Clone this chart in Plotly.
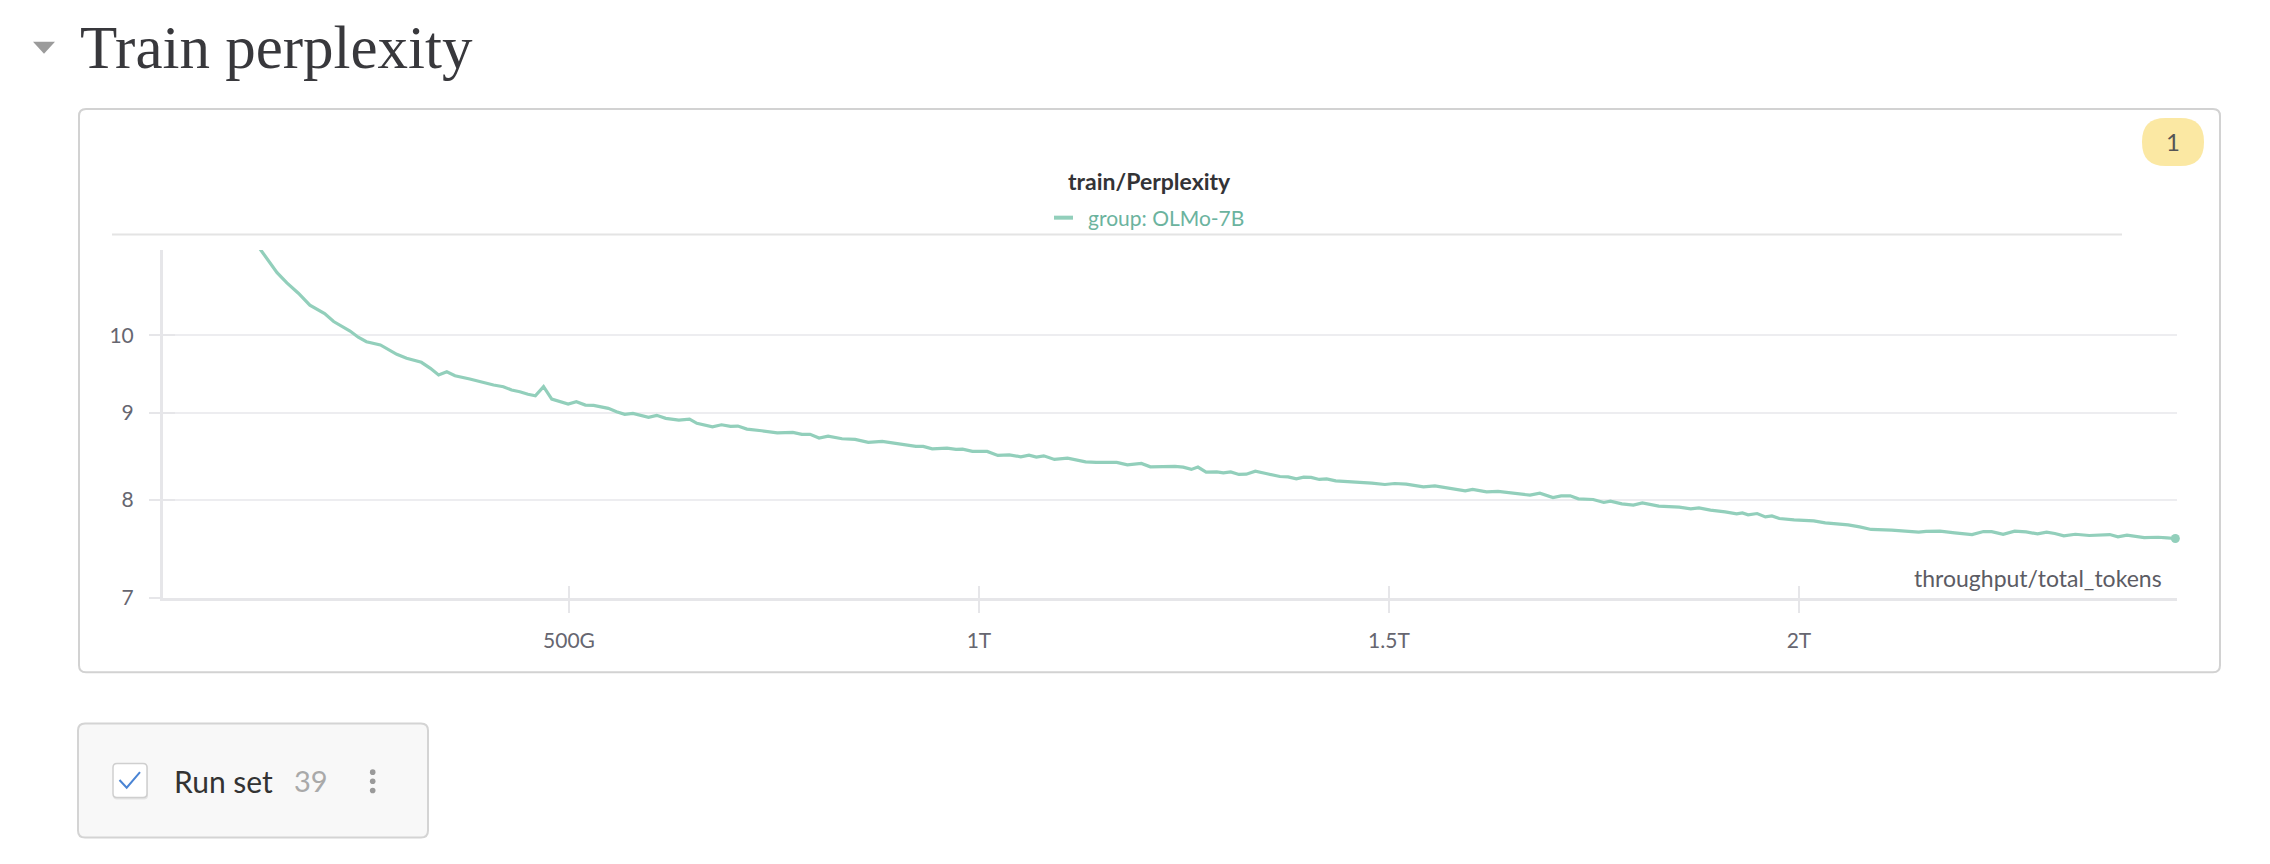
import math
import plotly.graph_objects as go

# ---------------- data ----------------
tokens_G = [111, 124, 144, 156, 170, 184, 194, 202, 213, 223, 233, 243, 253, 270, 290, 302, 320, 331, 341, 351,
            361, 379, 392, 408, 420, 430, 440, 450, 459, 469, 479, 489, 499, 509, 520, 530, 540, 548, 558, 568,
            578, 597, 607, 618, 634, 647, 656, 675, 686, 697, 706, 717, 735, 754, 773, 784, 794, 805, 816, 833,
            849, 865, 882, 896, 909, 923, 932, 943, 961, 972, 980, 992, 1010, 1023, 1037, 1051, 1061, 1070, 1079, 1092,
            1108, 1130, 1143, 1168, 1181, 1198, 1209, 1239, 1249, 1259, 1267, 1277, 1290, 1298, 1307, 1317, 1326, 1337, 1350, 1367,
            1377, 1387, 1396, 1405, 1415, 1424, 1435, 1447, 1465, 1479, 1495, 1507, 1521, 1542, 1556, 1574, 1593, 1602, 1619, 1633,
            1654, 1672, 1684, 1700, 1710, 1721, 1731, 1749, 1762, 1770, 1784, 1798, 1809, 1829, 1854, 1868, 1878, 1892, 1910, 1924,
            1931, 1938, 1949, 1959, 1967, 1976, 1994, 2018, 2032, 2060, 2074, 2088, 2113, 2134, 2146, 2155, 2172, 2190, 2211, 2225,
            2235, 2249, 2263, 2277, 2291, 2302, 2312, 2323, 2337, 2354, 2379, 2389, 2400, 2421, 2438, 2449, 2459]

perplexity = [11.46, 11.23, 10.89, 10.74, 10.59, 10.42, 10.36, 10.30, 10.19, 10.12, 10.06, 9.975, 9.915, 9.871, 9.747, 9.694, 9.641, 9.563, 9.476, 9.519,
              9.467, 9.425, 9.390, 9.348, 9.327, 9.285, 9.263, 9.231, 9.213, 9.327, 9.172, 9.138, 9.110, 9.138, 9.097, 9.094, 9.069, 9.057, 9.015, 8.983,
              8.995, 8.946, 8.971, 8.934, 8.914, 8.926, 8.874, 8.833, 8.857, 8.838, 8.841, 8.805, 8.785, 8.761, 8.766, 8.742, 8.742, 8.698, 8.722, 8.690,
              8.683, 8.647, 8.659, 8.639, 8.627, 8.601, 8.601, 8.572, 8.580, 8.565, 8.569, 8.542, 8.542, 8.496, 8.503, 8.480, 8.499, 8.476, 8.491, 8.450,
              8.465, 8.422, 8.415, 8.415, 8.388, 8.404, 8.365, 8.370, 8.362, 8.336, 8.362, 8.305, 8.308, 8.297, 8.308, 8.279, 8.282, 8.316, 8.290, 8.256,
              8.252, 8.230, 8.249, 8.246, 8.223, 8.230, 8.207, 8.201, 8.185, 8.182, 8.167, 8.178, 8.170, 8.141, 8.152, 8.126, 8.096, 8.112, 8.085, 8.090,
              8.071, 8.049, 8.071, 8.024, 8.042, 8.042, 8.009, 8.002, 7.970, 7.984, 7.955, 7.941, 7.966, 7.930, 7.919, 7.901, 7.912, 7.887, 7.869, 7.847,
              7.858, 7.837, 7.851, 7.815, 7.826, 7.798, 7.783, 7.773, 7.752, 7.731, 7.710, 7.683, 7.675, 7.665, 7.655, 7.662, 7.665, 7.647, 7.630, 7.661,
              7.661, 7.633, 7.665, 7.657, 7.637, 7.655, 7.641, 7.616, 7.633, 7.620, 7.630, 7.606, 7.623, 7.599, 7.602, 7.595, 7.589]

x_tick_vals = [5e11, 1e12, 1.5e12, 2e12]
x_tick_text = ["500G", "1T", "1.5T", "2T"]
y_tick_vals = [7, 8, 9, 10]
y_tick_text = ["7", "8", "9", "10"]
x_range_G = [4.9, 2461]
y_range = [7, 11.23]

series_name = "group: OLMo-7B"
chart_title = "train/Perplexity"
x_title = "throughput/total_tokens"
section_title = "Train perplexity"
runset_label = "Run set"
runset_count = "39"
badge_text = "1"

# ---------------- styling ----------------
LINE_COLOR = "#92cfbb"
LEGEND_TEXT = "#6bb39e"
AXIS_COLOR = "#e6e6e9"
GRID_COLOR = "#ededf0"
TICK_TEXT = "#666670"
UI_FONT = "Lato"

FIG_W, FIG_H = 2270, 864
L, R, T, B = 163, 2177, 250, 597.7
W, H = R - L, B - T


def px(x):
    return (x - L) / W


def py(y):
    return (B - y) / H


def rrect(x0, y0, x1, y1, r):
    pts = [
        f"M {px(x0 + r)} {py(y0)}", f"L {px(x1 - r)} {py(y0)}",
        f"Q {px(x1)} {py(y0)} {px(x1)} {py(y0 + r)}", f"L {px(x1)} {py(y1 - r)}",
        f"Q {px(x1)} {py(y1)} {px(x1 - r)} {py(y1)}", f"L {px(x0 + r)} {py(y1)}",
        f"Q {px(x0)} {py(y1)} {px(x0)} {py(y1 - r)}", f"L {px(x0)} {py(y0 + r)}",
        f"Q {px(x0)} {py(y0)} {px(x0 + r)} {py(y0)}", "Z",
    ]
    return " ".join(pts)


n = min(len(tokens_G), len(perplexity))
xs = [t * 1e9 for t in tokens_G[:n]]
ys = perplexity[:n]

fig = go.Figure()
fig.add_trace(go.Scatter(
    x=xs, y=ys, mode="lines", name=series_name,
    line=dict(color=LINE_COLOR, width=3.2), showlegend=False, hoverinfo="skip",
))
# end-point dot
fig.add_trace(go.Scatter(
    x=[xs[-1]], y=[ys[-1]], mode="markers", cliponaxis=False,
    marker=dict(color=LINE_COLOR, size=9), showlegend=False, hoverinfo="skip",
))
# invisible trace on the overlay axes (for the inner halves of the tick marks)
fig.add_trace(go.Scatter(
    x=[xs[-1]], y=[ys[-1]], xaxis="x2", yaxis="y2", mode="markers",
    marker=dict(size=1, opacity=0), showlegend=False, hoverinfo="skip",
))

xr = [v * 1e9 for v in x_range_G]
yr = [math.log10(v) for v in y_range]

fig.update_layout(
    width=FIG_W, height=FIG_H, autosize=False,
    margin=dict(l=L, r=FIG_W - R, t=T, b=FIG_H - B, pad=0),
    paper_bgcolor="white", plot_bgcolor="white",
    font=dict(family=UI_FONT, color=TICK_TEXT),
    xaxis=dict(
        range=xr, showgrid=False, zeroline=False,
        showline=True, linecolor=AXIS_COLOR, linewidth=3,
        tickmode="array", tickvals=x_tick_vals, ticktext=x_tick_text,
        ticks="outside", ticklen=12, tickwidth=2, tickcolor=AXIS_COLOR,
        tickfont=dict(family=UI_FONT, size=21, color=TICK_TEXT),
        ticklabelstandoff=10,
    ),
    yaxis=dict(
        type="log", range=yr, showgrid=True, gridcolor=GRID_COLOR, gridwidth=1.5,
        zeroline=False, showline=True, linecolor=AXIS_COLOR, linewidth=3,
        tickmode="array", tickvals=y_tick_vals, ticktext=y_tick_text,
        ticks="outside", ticklen=11, tickwidth=2, tickcolor=AXIS_COLOR,
        tickfont=dict(family=UI_FONT, size=21, color=TICK_TEXT),
        ticklabelstandoff=11,
    ),
    xaxis2=dict(
        overlaying="x", anchor="y", range=xr, showgrid=False, zeroline=False, showline=False,
        tickmode="array", tickvals=x_tick_vals, showticklabels=False,
        ticks="inside", ticklen=12, tickwidth=2, tickcolor=AXIS_COLOR,
    ),
    yaxis2=dict(
        overlaying="y", anchor="x", type="log", range=yr, showgrid=False, zeroline=False, showline=False,
        tickmode="array", tickvals=y_tick_vals, showticklabels=False,
        ticks="inside", ticklen=12, tickwidth=2, tickcolor=AXIS_COLOR,
    ),
)

shapes = [
    # panel frame
    dict(type="path", xref="paper", yref="paper", path=rrect(79, 109, 2220, 672, 7),
         line=dict(color="#d2d2d2", width=2), fillcolor="rgba(0,0,0,0)", layer="below"),
    # separator under legend
    dict(type="line", xref="paper", yref="paper", x0=px(112), x1=px(2122), y0=py(234.5), y1=py(234.5),
         line=dict(color="#e4e4e4", width=2)),
    # legend swatch
    dict(type="line", xref="paper", yref="paper", x0=px(1054), x1=px(1073), y0=py(217.7), y1=py(217.7),
         line=dict(color=LINE_COLOR, width=4)),
    # badge pill
    dict(type="path", xref="paper", yref="paper", path=rrect(2142, 118, 2204, 166, 23.5),
         line=dict(width=0), fillcolor="#fbe8a3"),
    # collapse triangle
    dict(type="path", xref="paper", yref="paper",
         path=f"M {px(33)} {py(42)} L {px(55)} {py(42)} L {px(44)} {py(54)} Z",
         line=dict(width=0), fillcolor="#9b9b9b"),
    # run set box
    dict(type="path", xref="paper", yref="paper", path=rrect(78, 723, 428, 837, 7),
         line=dict(color="#d4d4d4", width=2), fillcolor="#f8f8f8", layer="below"),
    # checkbox shadow + box
    dict(type="path", xref="paper", yref="paper", path=rrect(113, 764, 148, 799, 4),
         line=dict(width=0), fillcolor="#e4e4e4"),
    dict(type="path", xref="paper", yref="paper", path=rrect(113, 763, 147, 797, 4),
         line=dict(color="#cfcfcf", width=1.5), fillcolor="white"),
    # check mark
    dict(type="path", xref="paper", yref="paper",
         path=f"M {px(119.5)} {py(779.5)} L {px(126.7)} {py(787.3)} L {px(140)} {py(771.7)}",
         line=dict(color="#4a84d4", width=2), fillcolor="rgba(0,0,0,0)"),
]
for cy in (771.7, 780.8, 790):
    shapes.append(dict(type="circle", xref="paper", yref="paper",
                       x0=px(372.7 - 2.8), x1=px(372.7 + 2.8), y0=py(cy - 2.8), y1=py(cy + 2.8),
                       line=dict(width=0), fillcolor="#9a9a9a"))
fig.update_layout(shapes=shapes)

annotations = [
    dict(text=section_title, x=px(78), y=py(48), xanchor="left", yanchor="middle",
         font=dict(family="Liberation Serif", size=61, color="#38383c")),
    dict(text=f"<b>{chart_title}</b>", x=px(1149.5), y=py(181.5), xanchor="center", yanchor="middle",
         font=dict(family=UI_FONT, size=23, color="#333336")),
    dict(text=series_name, x=px(1086), y=py(218), xanchor="left", yanchor="middle",
         font=dict(family=UI_FONT, size=21, color=LEGEND_TEXT)),
    dict(text=x_title, x=px(2164), y=py(578), xanchor="right", yanchor="middle",
         font=dict(family=UI_FONT, size=23, color="#5c5c64")),
    dict(text=badge_text, x=px(2173), y=py(142), xanchor="center", yanchor="middle",
         font=dict(family=UI_FONT, size=24, color="#555555")),
    dict(text=runset_label, x=px(172), y=py(780.5), xanchor="left", yanchor="middle",
         font=dict(family=UI_FONT, size=30, color="#333333")),
    dict(text=runset_count, x=px(292), y=py(780.5), xanchor="left", yanchor="middle",
         font=dict(family=UI_FONT, size=29, color="#a9a9a9")),
]
for a in annotations:
    a.update(xref="paper", yref="paper", showarrow=False)
fig.update_layout(annotations=annotations)

fig.write_html("out.html", config={"displayModeBar": False})
